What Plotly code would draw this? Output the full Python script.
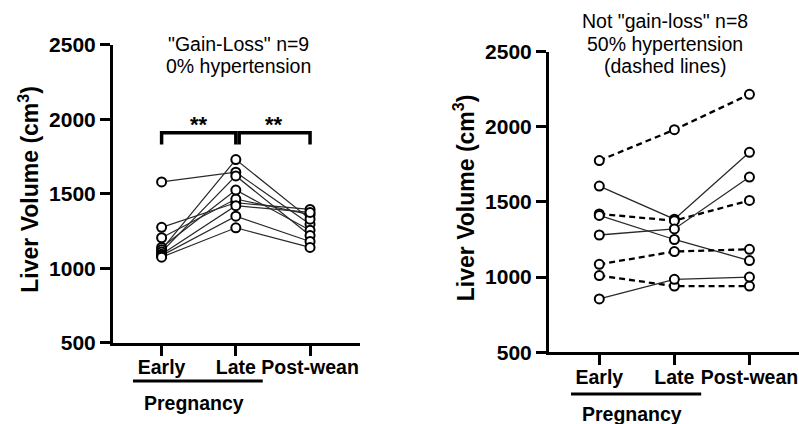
import plotly.graph_objects as go

# ---------------- data ----------------
categories = ["Early", "Late", "Post-wean"]
tick_values_y = [500, 1000, 1500, 2000, 2500]

# Left panel: "Gain-Loss" n=9
gl_early = [1580, 1275, 1205, 1140, 1125, 1110, 1095, 1085, 1075]
gl_late = [1645, 1440, 1465, 1525, 1730, 1620, 1420, 1350, 1272]
gl_post = [1295, 1395, 1360, 1255, 1330, 1220, 1375, 1180, 1140]

# Right panel: Not "gain-loss" n=8
ngl_early = [1775, 1605, 1420, 1410, 1280, 1085, 1010, 855]
ngl_late = [1980, 1385, 1375, 1250, 1320, 1170, 940, 985]
ngl_post = [2215, 1830, 1510, 1110, 1665, 1185, 940, 1000]
ngl_hypertension = [True, False, True, False, False, True, True, False]

left_title = ['"Gain-Loss" n=9', "0% hypertension"]
right_title = ['Not "gain-loss" n=8', "50% hypertension", "(dashed lines)"]
y_title = "Liver Volume (cm<sup>3</sup>)"
sig_labels = ["**", "**"]
group_label = "Pregnancy"

FONT = "Liberation Sans, Arial, Helvetica, sans-serif"
W, H = 799, 424

def px_x(p):
    return p / W

def px_y(p):
    return 1 - p / H

fig = go.Figure()

# lines first, then markers on top
for e, l, p in zip(gl_early, gl_late, gl_post):
    fig.add_trace(go.Scatter(x=[0, 1, 2], y=[e, l, p], mode="lines",
                             line=dict(color="#2a2a2a", width=1.2),
                             xaxis="x", yaxis="y", showlegend=False, hoverinfo="skip"))
for e, l, p, h in zip(ngl_early, ngl_late, ngl_post, ngl_hypertension):
    if h:
        ln = dict(color="#000000", width=2.3, dash="6px,4px")
    else:
        ln = dict(color="#2a2a2a", width=1.3)
    fig.add_trace(go.Scatter(x=[0, 1, 2], y=[e, l, p], mode="lines", line=ln,
                             xaxis="x2", yaxis="y2", showlegend=False, hoverinfo="skip"))

mk = dict(symbol="circle", size=9, color="white", line=dict(color="black", width=2))
for e, l, p in zip(gl_early, gl_late, gl_post):
    fig.add_trace(go.Scatter(x=[0, 1, 2], y=[e, l, p], mode="markers", marker=mk,
                             xaxis="x", yaxis="y", showlegend=False, cliponaxis=False))
for e, l, p in zip(ngl_early, ngl_late, ngl_post):
    fig.add_trace(go.Scatter(x=[0, 1, 2], y=[e, l, p], mode="markers", marker=mk,
                             xaxis="x2", yaxis="y2", showlegend=False, cliponaxis=False))

ytick_font = dict(family=FONT, size=21, color="black", weight="bold")
xtick_font = dict(family=FONT, size=19.5, color="black", weight="bold")

common_x = dict(showline=True, linewidth=3, linecolor="black", ticks="outside",
                ticklen=10, tickwidth=3, tickcolor="black", showgrid=False,
                zeroline=False, tickvals=[0, 1, 2], ticktext=categories,
                tickfont=xtick_font, fixedrange=True, automargin=False,
                ticklabelstandoff=-5)
common_y = dict(showline=True, linewidth=3, linecolor="black", ticks="outside",
                ticklen=10, tickwidth=3, tickcolor="black", showgrid=False,
                zeroline=False, tickvals=tick_values_y, range=[500, 2500],
                tickfont=ytick_font, fixedrange=True, automargin=False)

fig.update_layout(
    width=W, height=H,
    margin=dict(l=0, r=0, t=0, b=0, pad=0, autoexpand=False),
    paper_bgcolor="white", plot_bgcolor="white",
    xaxis=dict(common_x, domain=[px_x(113), px_x(360)], range=[-0.655, 2.673], anchor="y"),
    yaxis=dict(common_y, domain=[px_y(342.8), px_y(44.8)], anchor="x"),
    xaxis2=dict(common_x, domain=[px_x(549), 1.0], range=[-0.67, 2.66], anchor="y2"),
    yaxis2=dict(common_y, domain=[px_y(352.3), px_y(51.5)], anchor="x2"),
)

annotations = []
# y titles
annotations.append(dict(text=y_title, x=px_x(28.7), y=px_y(189), xref="paper", yref="paper",
                        textangle=-90, showarrow=False, xanchor="center", yanchor="middle",
                        font=dict(family=FONT, size=23, color="black", weight="bold")))
annotations.append(dict(text=y_title, x=px_x(463.7), y=px_y(197.5), xref="paper", yref="paper",
                        textangle=-90, showarrow=False, xanchor="center", yanchor="middle",
                        font=dict(family=FONT, size=23, color="black", weight="bold")))
# panel titles
for i, t in enumerate(left_title):
    annotations.append(dict(text=t, x=px_x(238.7), y=px_y(43.5 + 22.7 * i), xref="paper",
                            yref="paper", showarrow=False, xanchor="center", yanchor="middle",
                            font=dict(family=FONT, size=19.5, color="black")))
for i, t in enumerate(right_title):
    annotations.append(dict(text=t, x=px_x(665), y=px_y(20.8 + 22.7 * i), xref="paper",
                            yref="paper", showarrow=False, xanchor="center", yanchor="middle",
                            font=dict(family=FONT, size=19.5, color="black")))
# significance stars
for xs, lab in zip([0.5, 1.52], sig_labels):
    annotations.append(dict(text=lab, x=xs, y=1965, xref="x", yref="y", showarrow=False,
                            xanchor="center", yanchor="middle",
                            font=dict(family=FONT, size=22, color="black", weight="bold")))
# Pregnancy labels
annotations.append(dict(text=group_label, x=0.435, y=px_y(403), xref="x", yref="paper",
                        showarrow=False, xanchor="center", yanchor="middle",
                        font=dict(family=FONT, size=19.5, color="black", weight="bold")))
annotations.append(dict(text=group_label, x=0.436, y=px_y(414), xref="x2", yref="paper",
                        showarrow=False, xanchor="center", yanchor="middle",
                        font=dict(family=FONT, size=19.5, color="black", weight="bold")))
fig.update_layout(annotations=annotations)

shapes = []
# significance brackets (data coordinates)
for x0, x1 in [(0.0, 1.0), (1.045, 2.0)]:
    shapes.append(dict(type="path", xref="x", yref="y",
                       path=f"M {x0},1831 L {x0},1909 L {x1},1909 L {x1},1831",
                       line=dict(color="black", width=3.5)))
# pregnancy underlines
shapes.append(dict(type="line", xref="x", yref="paper", x0=-0.386, x1=1.363,
                   y0=px_y(381), y1=px_y(381), line=dict(color="black", width=3)))
shapes.append(dict(type="line", xref="x2", yref="paper", x0=-0.377, x1=1.357,
                   y0=px_y(394), y1=px_y(394), line=dict(color="black", width=3)))
fig.update_layout(shapes=shapes)

fig.write_html("out.html")
